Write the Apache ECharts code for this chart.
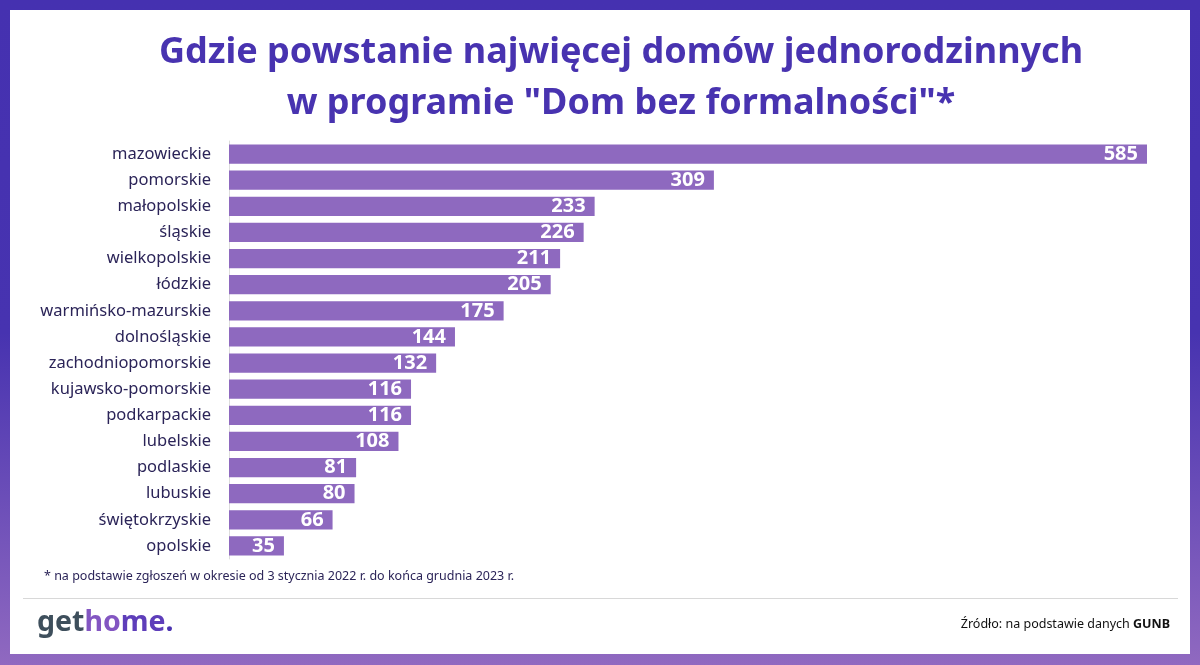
<!DOCTYPE html>
<html>
<head>
<meta charset="utf-8">
<script src="https://cdn.jsdelivr.net/npm/echarts@6/dist/echarts.min.js"></script>
<style>
html,body{margin:0;padding:0;background:#fff;}
#chart{width:1200px;height:665px;}
</style>
</head>
<body>
<div id="chart"></div>
<script>
const categories = ["mazowieckie","pomorskie","małopolskie","śląskie","wielkopolskie","łódzkie","warmińsko-mazurskie","dolnośląskie","zachodniopomorskie","kujawsko-pomorskie","podkarpackie","lubelskie","podlaskie","lubuskie","świętokrzyskie","opolskie"];
const values = [585,309,233,226,211,205,175,144,132,116,116,108,81,80,66,35];
const titleLines = ["Gdzie powstanie najwięcej domów jednorodzinnych", "w programie \"Dom bez formalności\"*"];
const footnote = "* na podstawie zgłoszeń w okresie od 3 stycznia 2022 r. do końca grudnia 2023 r.";

const chart = echarts.init(document.getElementById('chart'));
const FONT = "Noto Sans";
chart.setOption({
  animation: false,
  backgroundColor: '#fff',
  title: {
    text: titleLines.join('\n'),
    left: 616, textAlign: 'center', top: 22,
    textStyle: {fontFamily: FONT, fontWeight: 'bold', fontSize: 36, color: '#4833b0', lineHeight: 51}
  },
  grid: {left: 229, right: 53, top: 141, bottom: 106},
  xAxis: {type: 'value', min: 0, max: 585, show: false},
  yAxis: {
    type: 'category', data: categories, inverse: true,
    axisLine: {show: true, lineStyle: {color: '#dddddd', width: 1}},
    axisTick: {show: false},
    axisLabel: {margin: 18, fontFamily: FONT, fontSize: 16.5, color: '#2b2458'}
  },
  series: [{
    type: 'bar', data: values, barCategoryGap: '26%',
    itemStyle: {color: '#8e69bf'},
    label: {show: true, position: 'insideRight', distance: 9, color: '#fff', fontFamily: FONT, fontWeight: 'bold', fontSize: 20}
  }],
  graphic: [
    {type: 'rect', z: -10, shape: {x: 0, y: 0, width: 1200, height: 665},
      style: {fill: new echarts.graphic.LinearGradient(0, 0, 0, 1, [
        {offset: 0, color: '#4531b0'}, {offset: 0.5, color: '#4733b0'}, {offset: 1, color: '#9069c0'}])}},
    {type: 'rect', z: -9, shape: {x: 10, y: 10, width: 1180, height: 644}, style: {fill: '#ffffff'}},
    {type: 'text', left: 44, top: 570, style: {text: footnote, fontFamily: FONT, fontSize: 12.5, fill: '#2b2458'}},
    {type: 'rect', shape: {x: 23, y: 598, width: 1155, height: 1}, style: {fill: '#d8d8d8'}},
    {type: 'text', left: 37, top: 608, style: {
      text: '{a|get}{b|ho}{m|me}{c|.}',
      rich: {
        a: {fontFamily: FONT, fontWeight: 'bold', fontSize: 28.5, fill: '#3e4f5c'},
        b: {fontFamily: FONT, fontWeight: 'bold', fontSize: 28.5, fill: '#8356c2'},
        m: {fontFamily: FONT, fontWeight: 'bold', fontSize: 28.5, fill: '#5e3eba'},
        c: {fontFamily: FONT, fontWeight: 'bold', fontSize: 28.5, fill: '#4a32b0'}
      }}},
    {type: 'text', right: 30, top: 618, style: {
      text: '{n|Źródło: na podstawie danych }{b|GUNB}',
      rich: {
        n: {fontFamily: FONT, fontSize: 12.5, fill: '#111'},
        b: {fontFamily: FONT, fontSize: 12.5, fontWeight: 'bold', fill: '#111'}
      }}}
  ]
});
</script>
</body>
</html>
